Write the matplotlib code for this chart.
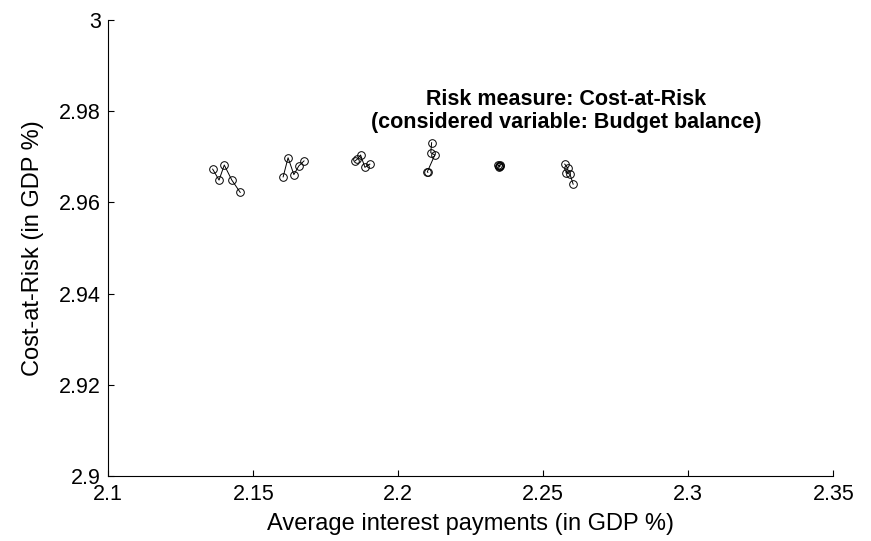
import matplotlib.pyplot as plt

plt.rcParams["font.family"] = ["Liberation Sans", "DejaVu Sans"]

# average interest payments (x) and cost-at-risk (y), one list per strategy group
x_g1 = [2.1360, 2.1382, 2.1400, 2.1426, 2.1455]
y_g1 = [2.9673, 2.9649, 2.9682, 2.9649, 2.9622]
x_g2 = [2.1603, 2.1620, 2.1640, 2.1657, 2.1675]
y_g2 = [2.9656, 2.9698, 2.9661, 2.9680, 2.9691]
x_g3 = [2.1851, 2.1859, 2.1870, 2.1885, 2.1902]
y_g3 = [2.9691, 2.9695, 2.9704, 2.9677, 2.9684]
x_g4 = [2.2115, 2.2112, 2.2126, 2.2100, 2.2102]
y_g4 = [2.9731, 2.9709, 2.9704, 2.9667, 2.9666]
x_g5 = [2.2344, 2.2351, 2.2346, 2.2352, 2.2348]
y_g5 = [2.9682, 2.9679, 2.9677, 2.9683, 2.9680]
x_g6 = [2.2574, 2.2585, 2.2578, 2.2592, 2.2603]
y_g6 = [2.9684, 2.9675, 2.9665, 2.9662, 2.9640]

groups = [(x_g1, y_g1), (x_g2, y_g2), (x_g3, y_g3),
          (x_g4, y_g4), (x_g5, y_g5), (x_g6, y_g6)]

x_ticks = [2.1, 2.15, 2.2, 2.25, 2.3, 2.35]
x_labels = ["2.1", "2.15", "2.2", "2.25", "2.3", "2.35"]
y_ticks = [2.9, 2.92, 2.94, 2.96, 2.98, 3.0]
y_labels = ["2.9", "2.92", "2.94", "2.96", "2.98", "3"]

fig = plt.figure(figsize=(8.71, 5.41), dpi=100)
ax = fig.add_axes([0.1243, 0.1201, 0.8324, 0.8429])

for xs, ys in groups:
    ax.plot(xs, ys, "-", color="black", lw=0.7)
    ax.plot(xs, ys, "o", mfc="none", mec="black", ms=5.5, mew=0.7)

ax.text(2.2578, 2.9800, "Risk measure: Cost-at-Risk\n(considered variable: Budget balance)",
        ha="center", va="center", fontsize=15.5, fontweight="bold", linespacing=1.1)

ax.set(xlim=(2.1, 2.35), ylim=(2.9, 3.0))
ax.set_xticks(x_ticks, x_labels)
ax.set_yticks(y_ticks, y_labels)
ax.tick_params(direction="in", length=4.5, width=0.8, labelsize=15.5, pad=5.5)
for side in ("top", "right"):
    ax.spines[side].set_visible(False)
ax.set_xlabel("Average interest payments (in GDP %)", fontsize=17)
ax.set_ylabel("Cost-at-Risk (in GDP %)", fontsize=17)
ax.xaxis.set_label_coords(0.5, -0.081)
ax.yaxis.set_label_coords(-0.089, 0.5)

fig.savefig("out.png", dpi=100)
